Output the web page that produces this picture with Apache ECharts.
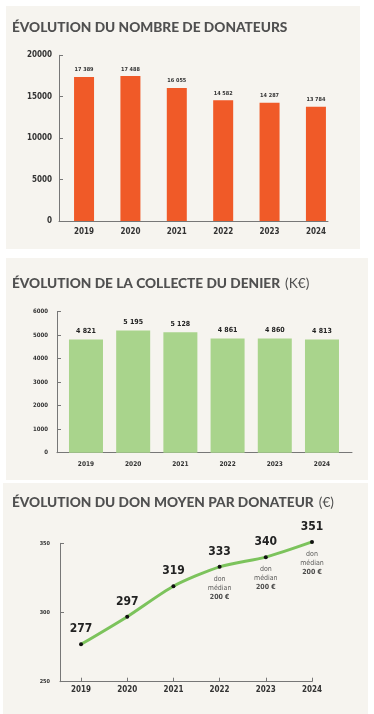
<!DOCTYPE html>
<html><head><meta charset="utf-8">
<script src="https://cdn.jsdelivr.net/npm/echarts@6/dist/echarts.min.js"></script>
<style>html,body{margin:0;padding:0;background:#fff}#c{width:374px;height:714px}</style>
</head><body><div id="c"></div>
<script>
const years = [2019, 2020, 2021, 2022, 2023, 2024];
const donateurs = [17389, 17488, 16055, 14582, 14287, 13784];
const collecte = [4821, 5195, 5128, 4861, 4860, 4813];
const donMoyen = [277, 297, 319, 333, 340, 351];
const medianYears = [2022, 2023, 2024];
const medianValues = [200, 200, 200];
const titles = ['ÉVOLUTION DU NOMBRE DE DONATEURS', 'ÉVOLUTION DE LA COLLECTE DU DENIER', 'ÉVOLUTION DU DON MOYEN PAR DONATEUR'];
const titleUnits = ['', '(K€)', '(€)'];

const NUM = '"DejaVu Sans Condensed","Liberation Sans Narrow",sans-serif';
const TIT = 'Lato, "Noto Sans", sans-serif';
const fmt = v => String(v).replace(/\B(?=(\d{3})+(?!\d))/g, ' ');
const pairs = (xs, ys) => xs.map((x, i) => [x, ys[i]]);
const axisLineStyle = {show: true, lineStyle: {color: '#777', width: 1}};

function titleOf(i, top) {
  return {
    text: '{b|' + titles[i] + '}' + (titleUnits[i] ? ' {n|' + titleUnits[i] + '}' : ''),
    left: 12, top: top, padding: 0,
    textStyle: {rich: {
      b: {fontFamily: TIT, fontWeight: 900, fontSize: 13.7, color: '#505050'},
      n: {fontFamily: TIT, fontWeight: 400, fontSize: 13.7, color: '#505050'}
    }}
  };
}

const chart = echarts.init(document.getElementById('c'), null, {renderer: 'canvas'});
chart.setOption({
  animation: false,
  backgroundColor: '#ffffff',
  graphic: [
    {type: 'rect', shape: {x: 6, y: 6, width: 354, height: 243}, style: {fill: '#f6f4ef'}, z: -10},
    {type: 'rect', shape: {x: 6, y: 258, width: 362, height: 222}, style: {fill: '#f6f4ef'}, z: -10},
    {type: 'rect', shape: {x: 3, y: 483, width: 365, height: 231}, style: {fill: '#f6f4ef'}, z: -10}
  ],
  title: [titleOf(0, 21), titleOf(1, 275), titleOf(2, 494)],
  grid: [
    {left: 59, right: 46, top: 55.3, bottom: 493},
    {left: 57, right: 22, top: 311.7, bottom: 261.3},
    {left: 60, right: 62, top: 543.3, bottom: 32.3}
  ],
  xAxis: [
    {gridIndex: 0, type: 'value', min: 2018.46, max: 2024.26, splitLine: {show: false},
      axisLine: axisLineStyle, axisTick: {show: false},
      axisLabel: {customValues: years, margin: 7, fontFamily: NUM, fontWeight: 'bold', fontSize: 8, color: '#333', formatter: v => String(v)}},
    {gridIndex: 1, type: 'value', min: 2018.386, max: 2024.636, splitLine: {show: false},
      axisLine: axisLineStyle, axisTick: {show: false},
      axisLabel: {customValues: years, margin: 8, fontFamily: NUM, fontWeight: 'bold', fontSize: 6.5, color: '#333', formatter: v => String(v)}},
    {gridIndex: 2, type: 'value', min: 2018.545, max: 2024, splitLine: {show: false},
      axisLine: axisLineStyle, axisTick: {show: true, inside: true, length: 4, customValues: years, lineStyle: {color: '#777'}},
      axisLabel: {customValues: years, margin: 4, fontFamily: NUM, fontWeight: 'bold', fontSize: 8, color: '#333', formatter: v => String(v)}}
  ],
  yAxis: [
    {gridIndex: 0, type: 'value', min: 0, max: 20000, interval: 5000, splitLine: {show: false},
      axisLine: axisLineStyle, axisTick: {show: true, inside: true, length: 4, lineStyle: {color: '#777'}},
      axisLabel: {margin: 7, fontFamily: NUM, fontWeight: 'bold', fontSize: 8, color: '#333', formatter: v => String(v)}},
    {gridIndex: 1, type: 'value', min: 0, max: 6000, interval: 1000, splitLine: {show: false},
      axisLine: axisLineStyle, axisTick: {show: true, inside: true, length: 4, lineStyle: {color: '#777'}},
      axisLabel: {margin: 9, fontFamily: NUM, fontWeight: 'bold', fontSize: 6, color: '#333', formatter: v => String(v)}},
    {gridIndex: 2, type: 'value', min: 250, max: 350, interval: 50, splitLine: {show: false},
      axisLine: axisLineStyle, axisTick: {show: true, inside: true, length: 4, lineStyle: {color: '#777'}},
      axisLabel: {margin: 10, fontFamily: NUM, fontWeight: 'bold', fontSize: 5.5, color: '#333', formatter: v => String(v)}}
  ],
  series: [
    {type: 'bar', xAxisIndex: 0, yAxisIndex: 0, barWidth: 20, data: pairs(years, donateurs),
      itemStyle: {color: '#f05a28'},
      label: {show: true, position: 'top', distance: 4, fontFamily: NUM, fontWeight: 'bold', fontSize: 5.5, color: '#333', formatter: p => fmt(p.value[1])}},
    {type: 'bar', xAxisIndex: 1, yAxisIndex: 1, barWidth: 34, data: pairs(years, collecte),
      itemStyle: {color: '#a9d48c'},
      label: {show: true, position: 'top', distance: 5, fontFamily: NUM, fontWeight: 'bold', fontSize: 7, color: '#222', formatter: p => fmt(p.value[1])}},
    {type: 'line', xAxisIndex: 2, yAxisIndex: 2, data: pairs(years, donMoyen), smooth: 0.25, clip: false,
      lineStyle: {color: '#7cc35c', width: 3}, symbol: 'circle', symbolSize: 4,
      itemStyle: {color: '#111', borderWidth: 0},
      label: {show: true, position: 'top', distance: 7, fontFamily: NUM, fontWeight: 'bold', fontSize: 12, color: '#222', formatter: p => String(p.value[1])}},
    {type: 'scatter', xAxisIndex: 2, yAxisIndex: 2, symbolSize: 1, clip: false, itemStyle: {color: 'rgba(0,0,0,0)'},
      data: medianYears.map((y, i) => [y, donMoyen[years.indexOf(y)], medianValues[i]]),
      label: {show: true, position: 'bottom', distance: 7, align: 'center',
        formatter: p => '{r|don}\n{r|médian}\n{b|' + p.value[2] + ' €}',
        rich: {
          r: {fontFamily: NUM, fontSize: 7, color: '#333', lineHeight: 9, align: 'center'},
          b: {fontFamily: NUM, fontWeight: 'bold', fontSize: 7, color: '#222', lineHeight: 10, align: 'center'}
        }}}
  ]
});
</script></body></html>
